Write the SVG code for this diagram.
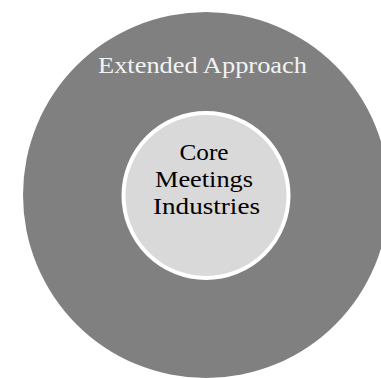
<svg xmlns="http://www.w3.org/2000/svg" width="381" height="378" viewBox="0 0 381 378">
<style>
.lbl{font-family:"Liberation Serif","DejaVu Serif",serif;text-anchor:middle}
</style>
<rect width="381" height="378" fill="#ffffff"/>
<g id="extended">
<circle cx="206" cy="195" r="183" fill="#808080"/>
<text class="lbl" x="202.5" y="73" font-size="24" fill="#f2f2f2" textLength="209" lengthAdjust="spacingAndGlyphs">Extended Approach</text>
</g>
<g id="core">
<circle cx="206" cy="195.5" r="82.5" fill="#d9d9d9" stroke="#ffffff" stroke-width="4"/>
<text class="lbl" font-size="24" fill="#000000">
<tspan x="207" y="160" textLength="49" lengthAdjust="spacingAndGlyphs">Core</tspan>
<tspan x="207" y="187" textLength="98" lengthAdjust="spacingAndGlyphs">Meetings</tspan>
<tspan x="206.5" y="214" textLength="107" lengthAdjust="spacingAndGlyphs">Industries</tspan>
</text>
</g>
<g id="connectors"/>
</svg>
